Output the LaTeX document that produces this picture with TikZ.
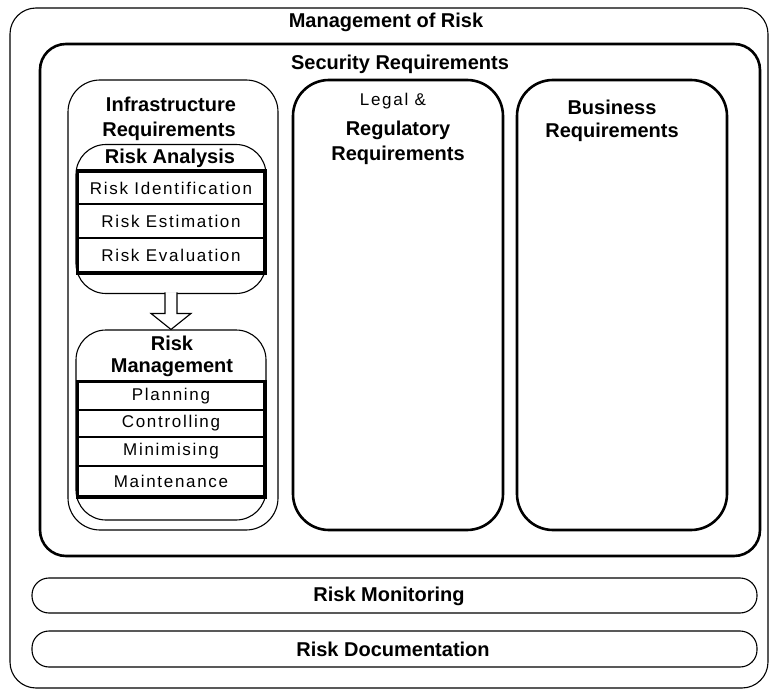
\documentclass[tikz,border=0pt]{standalone}
\usepackage{fontspec}
\usetikzlibrary{calc}
\setmainfont{Liberation Sans}
\newfontfamily\plainfont[LetterSpace=10]{Liberation Sans}
\begin{document}
\begin{tikzpicture}[x=1pt,y=-1pt,
  box/.style={draw=black,fill=none,inner sep=0pt,rectangle},
  thinbox/.style={box,line width=1.1pt},
  heavybox/.style={box,line width=2.6pt},
  itembox/.style={draw=black,line width=2pt,inner sep=0pt,rectangle,fill=white,
     minimum width=186,font=\plainfont\fontsize{17}{19}\selectfont},
  frame/.style={draw=black,line width=3pt},
  title/.style={font=\bfseries\fontsize{20}{23}\selectfont,inner sep=0pt},
  plain/.style={font=\plainfont\fontsize{17}{19}\selectfont,inner sep=0pt}]
\useasboundingbox (0,0) rectangle (772,690);

% outer and security frames
\node[thinbox,rounded corners=26,minimum width=758,minimum height=680] (mor) at (389,348) {};
\node[heavybox,rounded corners=26,minimum width=720,minimum height=512] (sec) at (400,300) {};

% three requirement columns
\node[thinbox,rounded corners=32,minimum width=210,minimum height=450] (inf) at (173,305) {};
\node[heavybox,rounded corners=36,minimum width=210,minimum height=450] (leg) at (398,305) {};
\node[heavybox,rounded corners=36,minimum width=210,minimum height=450] (bus) at (622,305) {};

% risk analysis group
\node[thinbox,rounded corners=30,minimum width=190,minimum height=149] (ra) at (171,219) {};
\node[itembox,minimum height=32] (rid) at (171,188) {Risk Identification};
\node[itembox,minimum height=34] (res) at (171,221) {Risk Estimation};
\node[itembox,minimum height=34] (rev) at (171,255) {Risk Evaluation};
\draw[frame] (rid.north west) rectangle (rev.south east);

% hollow arrow between the groups
\node[thinbox,rounded corners=30,minimum width=190,minimum height=190] (rm) at (171,425) {};
\coordinate (tip) at (rm.north);
\draw[line width=1.1pt,fill=white]
  ($(tip)+(-6,-37)$) -- ($(tip)+(-6,-16)$) -- ($(tip)+(-20,-16)$) -- (tip)
  -- ($(tip)+(20,-16)$) -- ($(tip)+(6,-16)$) -- ($(tip)+(6,-37)$);

% risk management group
\node[itembox,minimum height=28] (pl) at (171,396) {Planning};
\node[itembox,minimum height=27] (co) at (171,423.5) {Controlling};
\node[itembox,minimum height=29] (mi) at (171,451.5) {Minimising};
\node[itembox,minimum height=30] (ma) at (171,481) {Maintenance};
\draw[frame] (pl.north west) rectangle (ma.south east);

% bottom bands
\node[thinbox,rounded corners=17,minimum width=725,minimum height=35] (mon) at (394.5,595.5) {};
\node[thinbox,rounded corners=17,minimum width=725,minimum height=36] (doc) at (394.5,649) {};

% labels
\node[title] (tmor) at (386,22) {Management of Risk};
\node[title] (tsec) at (400,64) {Security Requirements};
\node[title] (tinf1) at (171,104) {Infrastructure};
\node[title] (tinf2) at (169,131) {Requirements};
\node[title] (tra) at (170,158) {Risk Analysis};
\node[title] (trm1) at (172,343) {Risk};
\node[title] (trm2) at (172,368) {Management};
\node[plain] (tleg1) at (393,101) {Legal \&};
\node[title] (tleg2) at (398,130) {Regulatory};
\node[title] (tleg3) at (398,155) {Requirements};
\node[title] (tbus1) at (612,107) {Business};
\node[title] (tbus2) at (612,132) {Requirements};
\node[title] (tmon) at (389,596) {Risk Monitoring};
\node[title] (tdoc) at (393,649) {Risk Documentation};
\end{tikzpicture}
\end{document}
